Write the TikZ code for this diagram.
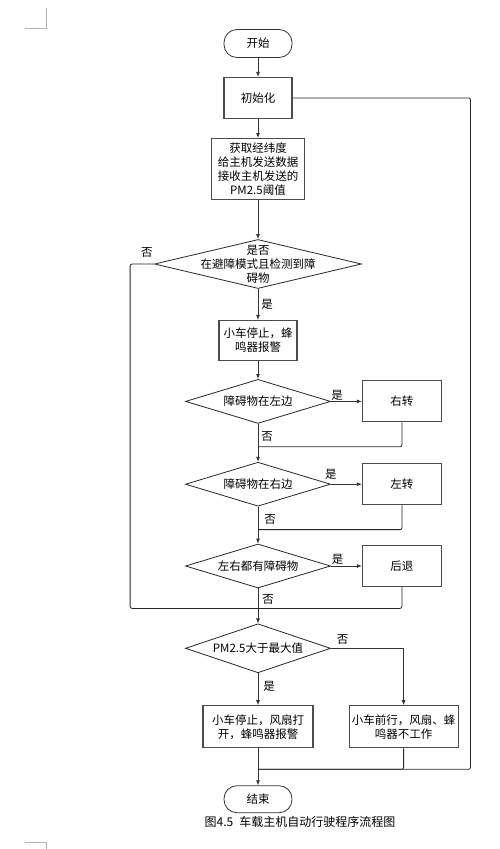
\documentclass[tikz,border=0pt]{standalone}
\usepackage{fontspec}
\setmainfont{Noto Sans CJK SC}
\usetikzlibrary{arrows.meta, positioning, shapes.geometric, calc}

\begin{document}
\begin{tikzpicture}[
  x=1pt, y=1pt,
  font=\fontsize{11.5}{14}\selectfont,
  terminal/.style = {draw=black!80, line width=0.8pt, rounded corners=13pt, minimum width=68pt, minimum height=28pt, align=center},
  process/.style = {draw=black!70, line width=1.1pt, minimum width=79pt, minimum height=41pt, align=center},
  decision/.style = {diamond, draw=black!85, line width=0.8pt, shape aspect=3.2, inner sep=0pt, minimum width=145pt, minimum height=44pt, align=center},
  arrow/.style = {draw=black!80, line width=0.8pt, -{Latex[length=5pt, width=4pt]}},
  line/.style = {draw=black!85, line width=0.8pt, rounded corners=2pt},
  lbl/.style = {inner sep=1pt}
]
\useasboundingbox (0,0) rectangle (500,-849);

%--------------------------------------------------
% page corner marks
%--------------------------------------------------
\draw[gray!60, line width=0.8pt] (46,-8) -- (46,-28) -- (25,-28);
\draw[gray!60, line width=0.8pt] (25,-842) -- (46,-842) -- (46,-849);

%--------------------------------------------------
% main column
%--------------------------------------------------
\node[terminal] (start) at (258,-43.5) {开始};
\node[process, minimum width=68pt, below=19pt of start] (init) {初始化};
\node[process, minimum width=93pt, minimum height=61pt, below=19pt of init] (fetch)
  {获取经纬度\\给主机发送数据\\接收主机发送的\\PM2.5阈值};
\node[decision, minimum width=207pt, minimum height=49pt, shape aspect=4.2,
  inner xsep=-25pt, inner ysep=-10pt, below=39pt of fetch] (avoid)
  {是否\\在避障模式且检测到障\\碍物};
\node[process, minimum width=78pt, minimum height=40pt, below=31pt of avoid] (halt)
  {小车停止，蜂\\鸣器报警};
\node[decision, below=18pt of halt] (leftobs) {障碍物在左边};
\node[decision, below=38pt of leftobs] (rightobs) {障碍物在右边};
\node[decision, below=37pt of rightobs] (bothobs) {左右都有障碍物};
\node[decision, minimum height=49pt, shape aspect=3, below=35pt of bothobs] (pm) {PM2.5大于最大值};
\node[process, minimum width=110pt, minimum height=42pt, below=32pt of pm] (alarm)
  {小车停止，风扇打\\开，蜂鸣器报警};
\node[terminal, minimum height=27pt, below=37pt of alarm] (finish) {结束};

%--------------------------------------------------
% side boxes
%--------------------------------------------------
\node[process, right=31pt of leftobs] (turnr) {右转};
\node[process, right=31pt of rightobs] (turnl) {左转};
\node[process, right=31pt of bothobs] (back) {后退};
\node[process, minimum width=109pt, minimum height=42pt, inner xsep=2pt, right=35pt of alarm] (fwd)
  {小车前行，风扇、蜂\\鸣器不工作};

% caption
\node[font=\fontsize{12}{14}\selectfont] (caption) at (300,-822) {图4.5\enspace 车载主机自动行驶程序流程图};

% junctions above each decision
\coordinate (j1) at ($(rightobs.north)+(0,15)$);
\coordinate (j2) at ($(bothobs.north)+(0,14)$);
\coordinate (j3) at ($(pm.north)+(0,15)$);
\coordinate (j4) at ($(finish.north)+(0,16)$);

%--------------------------------------------------
% Connections
%--------------------------------------------------
\draw[arrow] (start) -- (init);
\draw[arrow] (init) -- (fetch);
\draw[arrow] (fetch) -- (avoid);
\draw[arrow] (avoid) -- node[lbl, right=2pt, pos=0.5] {是} (halt);
\draw[arrow] (halt) -- (leftobs);

% obstacle left
\draw[arrow] (leftobs) -- node[lbl, above, pos=0.2] {是} (turnr);
\draw[arrow] (leftobs) -- node[lbl, right=2pt, pos=0.34] {否} (rightobs);
\draw[line] (turnr.south) |- (j1);

% obstacle right
\draw[arrow] (rightobs) -- node[lbl, above=3pt, pos=0] {是} (turnl);
\draw[arrow] (rightobs) -- node[lbl, right=5pt, pos=0.35] {否} (bothobs);
\draw[line] (turnl.south) |- (j2);

% both sides
\draw[arrow] (bothobs) -- node[lbl, above, pos=0.22] {是} (back);
\draw[arrow] (bothobs) -- node[lbl, right=3pt, pos=0.31] {否} (pm);
\draw[line] (back.south) |- (j3);

% not in avoid mode
\draw[line] (avoid.west) -- node[lbl, above left, yshift=5pt, pos=0] {否} ++(-24,0) |- (j3);

% PM2.5
\draw[arrow] (pm.east) -| node[lbl, above, yshift=2pt, pos=0.08] {否} (fwd.north);
\draw[arrow] (pm) -- node[lbl, right=4pt, pos=0.4] {是} (alarm);
\draw[arrow] (alarm) -- (finish);
\draw[line] (fwd.south) |- (j4);
\draw[line] (init.east) -- ++(178,0) |- (j4);

\end{tikzpicture}
\end{document}
